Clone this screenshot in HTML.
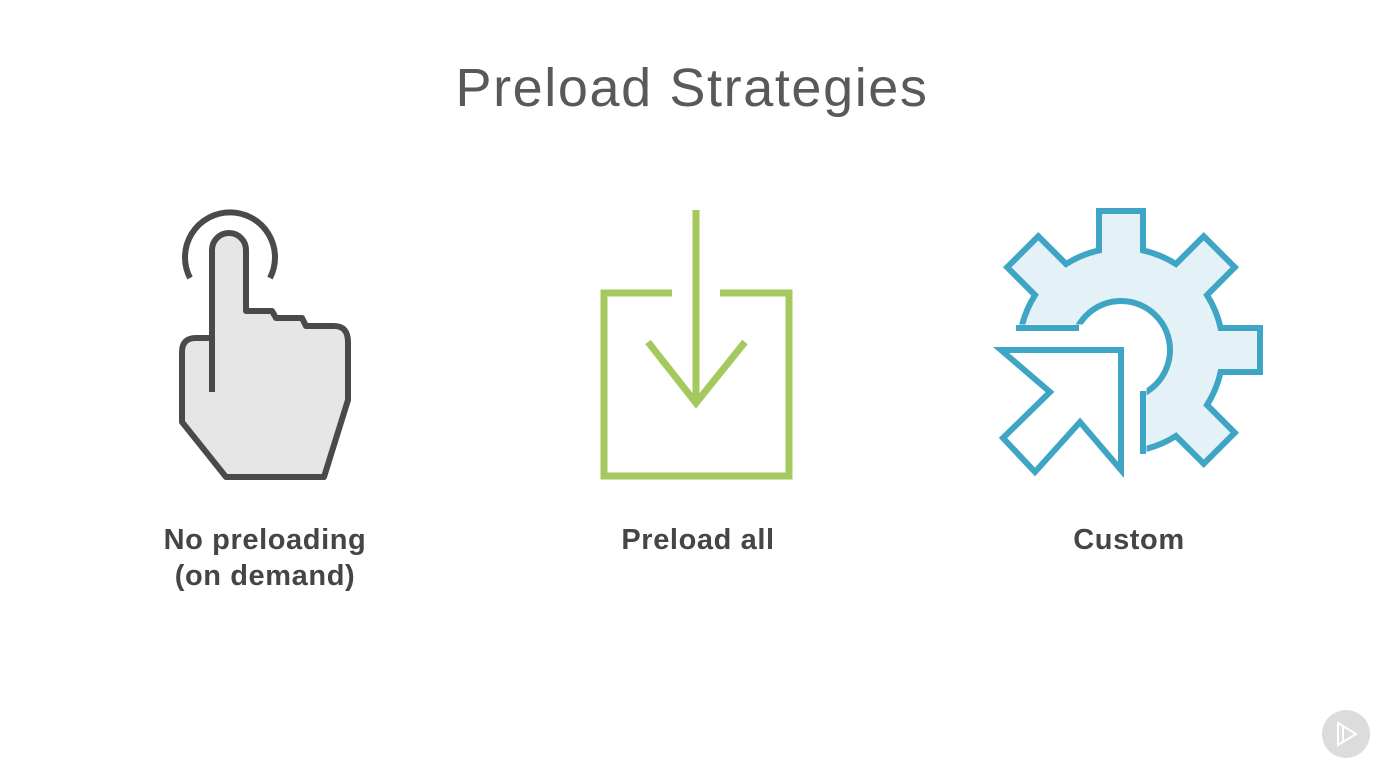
<!DOCTYPE html>
<html><head><meta charset="utf-8"><style>
html,body{margin:0;padding:0;background:#fff;}
body{width:1400px;height:780px;overflow:hidden;position:relative;font-family:"Liberation Sans",sans-serif;}
.t{position:absolute;left:0;width:1384px;text-align:center;top:57px;font-size:54px;color:#595959;font-weight:normal;letter-spacing:1.6px;}
.l{position:absolute;font-size:29px;color:#454545;text-align:center;line-height:36px;font-weight:bold;width:300px;letter-spacing:0.6px;}
</style></head><body>
<div class="t">Preload Strategies</div>
<div class="l" style="left:115px;top:522px;">No preloading<br>(on demand)</div>
<div class="l" style="left:548px;top:522px;">Preload all</div>
<div class="l" style="left:979px;top:522px;">Custom</div>
<svg width="1400" height="780" style="position:absolute;left:0;top:0">
<defs><clipPath id="c"><path d="M0 0H1400V780H1146.5V324.5H0Z"/></clipPath></defs>
<!-- hand -->
<path d="M190 278 A45 45 0 1 1 270 278" fill="none" stroke="#4a4a4a" stroke-width="6"/>
<path d="M212 338 V250 A17 17 0 0 1 246 250 V311 H272 L276 318 H302 L306 326 H334 Q348 326 348 342 V400 L324 477 H226 L182 422 V352 Q182 338 196 338 Z" fill="#e6e6e6" stroke="#4a4a4a" stroke-width="6" stroke-linejoin="round"/>
<line x1="212" y1="338" x2="212" y2="392" stroke="#4a4a4a" stroke-width="6"/>
<!-- download -->
<g fill="none" stroke="#a4c95f" stroke-width="7">
<path d="M672 293 H604 V476 H789 V293 H720"/>
<line x1="696" y1="210" x2="696" y2="405"/>
<path d="M648 342 L696 403 L745 342"/>
</g>
<!-- gear -->
<g clip-path="url(#c)">
<path id="gear" fill="#e4f1f7" stroke="#3ea6c4" stroke-width="6" stroke-linejoin="miter"/>
<circle cx="1121" cy="350" r="49" fill="#fff" stroke="#3ea6c4" stroke-width="6"/>
</g>
<line x1="1016" y1="328" x2="1079" y2="328" stroke="#3ea6c4" stroke-width="6"/>
<line x1="1143" y1="391" x2="1143" y2="454" stroke="#3ea6c4" stroke-width="6"/>
<path d="M1001 350 H1121 V470 L1080 422 L1035 472 L1003 438 L1050 392 Z" fill="#fff" stroke="#3ea6c4" stroke-width="6" stroke-linejoin="miter"/>
<!-- logo -->
<circle cx="1346" cy="734" r="24" fill="#dcdcdc"/>
<path d="M1338 723 L1356 734 L1338 745 Z M1343 726 V742" fill="none" stroke="#fff" stroke-width="2"/>
</svg>
<script>
(function(){
var cx=1121,cy=350,R=102,T=139,h=22,d="";
var b=Math.sqrt(R*R-h*h);
function p(r,t,a){return [cx+r*Math.cos(a)-t*Math.sin(a),cy+r*Math.sin(a)+t*Math.cos(a)];}
for(var i=0;i<8;i++){
 var a=i*Math.PI/4;
 var A=p(b,-h,a),B=p(T,-h,a),C=p(T,h,a),D=p(b,h,a);
 d+=(i==0?"M":"A"+R+" "+R+" 0 0 1 ")+A[0].toFixed(1)+" "+A[1].toFixed(1)+" L"+B[0].toFixed(1)+" "+B[1].toFixed(1)+" L"+C[0].toFixed(1)+" "+C[1].toFixed(1)+" L"+D[0].toFixed(1)+" "+D[1].toFixed(1)+" ";
}
var A0=p(b,-h,0);
d+="A"+R+" "+R+" 0 0 1 "+A0[0].toFixed(1)+" "+A0[1].toFixed(1)+"Z";
document.getElementById("gear").setAttribute("d",d);
})();
</script>
</body></html>
